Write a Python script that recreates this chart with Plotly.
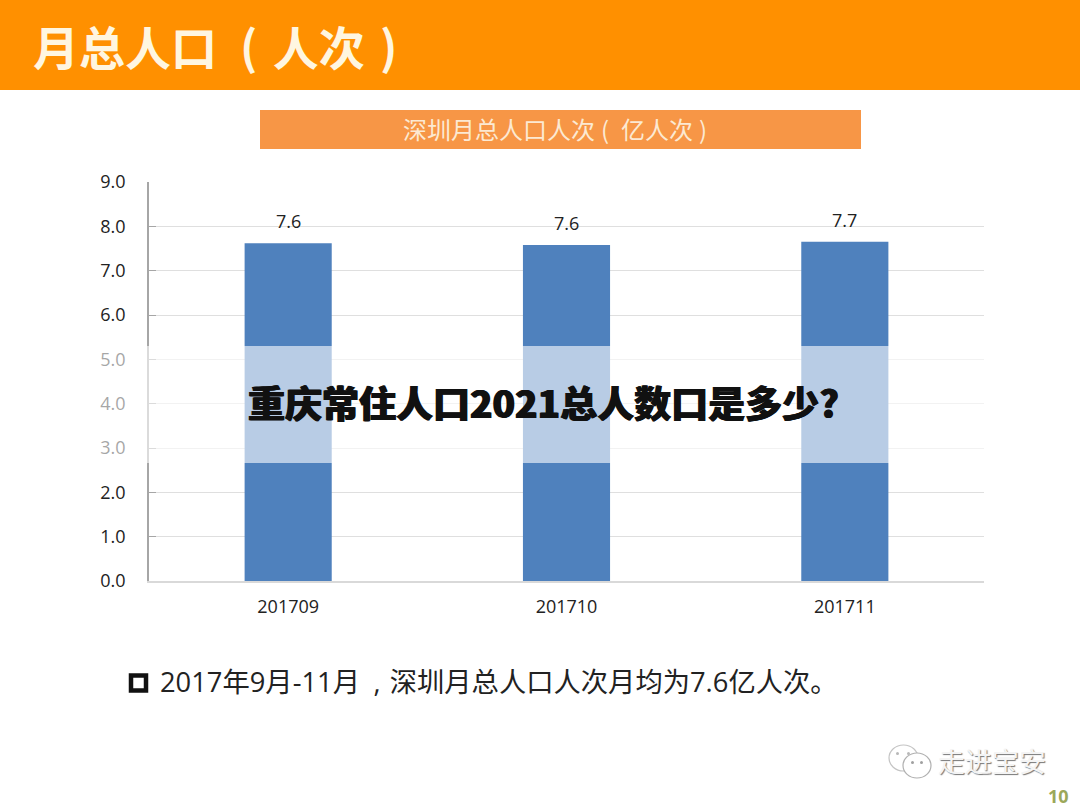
import plotly.graph_objects as go

months = ['201709', '201710', '201711']
totals = [7.62, 7.58, 7.65]
total_labels = ['7.6', '7.6', '7.7']
y_ticks = [0, 1, 2, 3, 4, 5, 6, 7, 8, 9]
# the pale band that crosses the whole slide (values on the y axis)
band = [2.66, 5.3]

W = 1080
H = 810
CJK = 'Noto Sans CJK SC'
LATIN = 'Open Sans, Noto Sans CJK SC'


def px_x(x):
    return x / W


def px_y(y):
    return 1 - y / H


def note(x, y, text, size, color, xanchor='left', family=CJK, **kw):
    return dict(xref='paper', yref='paper', x=px_x(x), y=px_y(y), text=text, showarrow=False,
                xanchor=xanchor, yanchor='middle', font=dict(family=family, size=size, color=color, **kw))


def box(x0, y0, x1, y1, fill, line=None, width=0, kind='rect'):
    return dict(type=kind, xref='paper', yref='paper', x0=px_x(x0), x1=px_x(x1), y0=px_y(y0), y1=px_y(y1),
                fillcolor=fill, line=dict(color=line, width=width), layer='below')


fig = go.Figure()
fig.add_trace(go.Bar(x=months, y=totals, marker=dict(color='#4F81BD', line=dict(width=0)), showlegend=False))

shapes = [
    box(0, 0, W, 90, '#FF9000'),
    box(260, 110, 861, 149, '#F79646'),
    # bullet
    box(131, 675.5, 146, 690.5, 'white', '#111111', 4.5),
    # wechat bubbles
    box(889, 745, 918, 771, 'white', '#c4c4c4', 1.2, 'circle'),
    box(903, 753, 931, 778, 'white', '#b0b0b0', 1.2, 'circle'),
    box(896, 752, 899, 755, '#b8b8b8', kind='circle'),
    box(907, 752, 910, 755, '#b8b8b8', kind='circle'),
    box(911, 761, 914, 764, '#a0a0a0', kind='circle'),
    box(920, 761, 923, 764, '#a0a0a0', kind='circle'),
    # white wash over the chart, above axes and bars
    dict(type='rect', xref='paper', yref='y', x0=0, x1=1, y0=band[0], y1=band[1],
         fillcolor='rgba(255,255,255,0.6)', line=dict(width=0), layer='above'),
]

annotations = [
    note(31, 45, '月总人口\u2002(\u2004人次\u2004)', 46, '#FFF6E0', weight=700),
    note(401, 129, '深圳月总人口人次\u2005(\u2002亿人次\u2005)', 24, '#FCE9D2'),
    note(158, 681, '2017年9月-11月\u2002,\u2004深圳月总人口人次月均为7.6亿人次。', 27.3, '#222222', family=LATIN),
    note(936, 760, '走进宝安', 27, '#F4F4F4', shadow='1px 1px 1px #777777'),
    note(1058, 796, '10', 18, '#9BA85A', xanchor='center', family=LATIN, weight=700),
    note(246, 402, '重庆常住人口2021总人数口是多少?', 37, '#111111', weight=900,
         shadow='0.7px 0 0 #111111, -0.7px 0 0 #111111'),
]
# numeric-looking categories, so annotations go by category index
for i, (t, lab) in enumerate(zip(totals, total_labels)):
    annotations.append(dict(x=i, y=t, xref='x', yref='y', text=lab, showarrow=False, yanchor='bottom', yshift=8,
                            font=dict(family=LATIN, size=18, color='#222222')))

fig.update_layout(
    width=W,
    height=H,
    margin=dict(l=0, r=0, t=0, b=0, autoexpand=False),
    paper_bgcolor='white',
    plot_bgcolor='white',
    bargap=0.687,
    shapes=shapes,
    annotations=annotations,
    font=dict(family=LATIN, color='#222222'),
)
fig.update_xaxes(domain=[px_x(149), px_x(984)], type='category', range=[-0.5, 2.5], showline=True,
                 linecolor='#d9d9d9', linewidth=1.5, ticks='', tickfont=dict(size=18, color='#222222'),
                 ticklabelstandoff=9)
fig.update_yaxes(domain=[px_y(581), px_y(182)], range=[0, 9], tickvals=y_ticks, tickformat='.1f', showgrid=True,
                 gridcolor='#dfdfdf', gridwidth=1, zeroline=False, showline=True, linecolor='#a6a6a6', linewidth=1.5,
                 ticks='inside', ticklen=7, tickcolor='#a6a6a6', tickfont=dict(size=18, color='#222222'),
                 ticklabelstandoff=18)

fig.write_html("out.html", config={'displayModeBar': False}, post_script="document.body.style.margin='0';")
